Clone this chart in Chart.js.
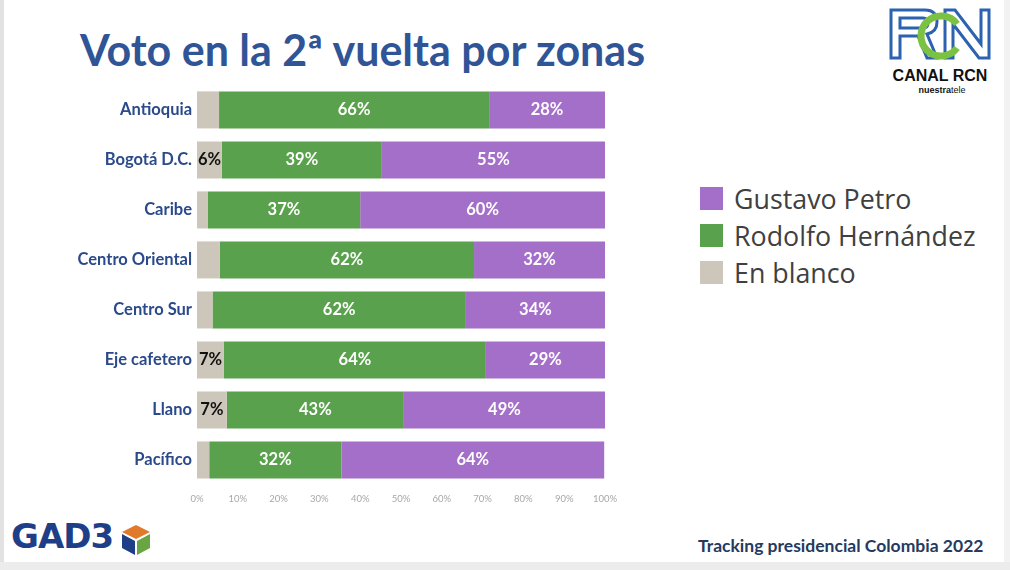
<!DOCTYPE html>
<html>
<head>
<meta charset="utf-8">
<script src="https://cdn.jsdelivr.net/npm/chart.js@4/dist/chart.umd.min.js"></script>
<style>
  html,body{margin:0;padding:0;background:#fff;}
  #page{position:relative;width:1010px;height:570px;overflow:hidden;background:#fff;font-family:Lato,"Open Sans",sans-serif;}
  #leftbar{position:absolute;left:0;top:0;width:4px;height:570px;background:#e2e2e2;}
  #bottombar{position:absolute;left:0;top:562px;width:1010px;height:8px;background:#ececec;}
  #rightbar{position:absolute;left:1004px;top:0;width:6px;height:570px;background:#f2f2f2;}
  #title{position:absolute;left:80px;top:24px;font-family:Lato,sans-serif;font-weight:700;font-size:43px;color:#2f5597;white-space:nowrap;}
  #chartbox{position:absolute;left:0;top:70px;width:640px;height:440px;}
  #legend{position:absolute;left:700px;top:180px;font-family:"Open Sans",sans-serif;font-size:26.8px;color:#404040;}
  #legend div{display:flex;align-items:center;height:37px;}
  #legend span.sw{display:inline-block;width:23px;height:23px;margin-right:11px;}
  #footer{position:absolute;left:698px;top:535px;font-family:Lato,sans-serif;font-weight:700;font-size:17.5px;color:#253a5e;white-space:nowrap;}
  #gad3{position:absolute;left:11px;top:516px;font-family:"DejaVu Sans",sans-serif;font-weight:900;font-size:34px;color:#1e3f87;letter-spacing:-1px;}
  #rcn{position:absolute;left:885px;top:6px;width:110px;height:92px;}
</style>
</head>
<body>
<div id="page">
  <div id="leftbar"></div>
  <div id="rightbar"></div>
  <div id="bottombar"></div>
  <div id="title">Voto en la 2ª vuelta por zonas</div>
  <div id="chartbox"><canvas id="c" width="640" height="440"></canvas></div>
  <div id="legend"></div>
  <div id="footer">Tracking presidencial Colombia 2022</div>
  <div id="gad3">GAD3</div>
  <svg style="position:absolute;left:119px;top:523px" width="34" height="34" viewBox="0 0 34 34">
    <polygon points="17,2 31,9 17,16 3,9" fill="#e07a2a"/>
    <polygon points="3,11 16,18 16,32 3,25" fill="#1e3f87"/>
    <polygon points="18,18 31,11 31,25 18,32" fill="#6aa543"/>
  </svg>
  <svg id="rcn" viewBox="0 0 110 92">
    <path d="M6 4 H40 Q52 4 52 16 Q52 26 42 28 L52 52 H42 L33 30 H15 V52 H6 Z M15 12 V22 H38 Q43 22 43 17 Q43 12 38 12 Z" fill="none" stroke="#2d62b0" stroke-width="3"/>
    <path d="M60 52 V4 H70 L96 38 V4 H104 V52 H94 L68 18 V52 Z" fill="none" stroke="#2d62b0" stroke-width="3"/>
    <path d="M72 18 A20 20 0 1 0 72 42" fill="none" stroke="#7cc242" stroke-width="7"/>
    <text x="55" y="75" text-anchor="middle" font-family="Liberation Sans, sans-serif" font-weight="700" font-size="16" fill="#111">CANAL RCN</text>
    <text x="57" y="87" text-anchor="middle" font-family="Liberation Sans, sans-serif" font-size="9" fill="#111"><tspan font-weight="700">nuestra</tspan>tele</text>
  </svg>
</div>
<script>
const categories = ["Antioquia","Bogotá D.C.","Caribe","Centro Oriental","Centro Sur","Eje cafetero","Llano","Pacífico"];
const enBlanco   = [5.4, 6.1, 2.6, 5.6, 3.8, 6.6, 7.3, 3.0];
const hernandez  = [66.2, 39.2, 37.4, 62.3, 62.1, 64.2, 43.4, 32.4];
const petro      = [28.4, 54.7, 60.0, 32.1, 34.1, 29.2, 49.3, 64.4];
const xTicks     = [0,10,20,30,40,50,60,70,80,90,100];
const blankLabelMin = 6;

const colors = {blank:"#cdc6ba", green:"#5aa14d", purple:"#a46fc8"};

const labelPlugin = {
  id:"segLabels",
  afterDatasetsDraw(chart){
    const ctx = chart.ctx;
    ctx.save();
    ctx.textBaseline = "middle";
    ctx.textAlign = "center";
    chart.data.datasets.forEach((ds, di) => {
      const meta = chart.getDatasetMeta(di);
      meta.data.forEach((bar, i) => {
        const v = ds.data[i];
        if (di === 0) {
          if (v < blankLabelMin) return;
          ctx.fillStyle = "#111";
        } else {
          ctx.fillStyle = "#ffffff";
        }
        ctx.font = "700 16.5px Lato, sans-serif";
        const cx = (bar.x + bar.base) / 2;
        ctx.fillText(Math.round(v) + "%", cx, bar.y);
      });
    });
    ctx.restore();
  }
};

const chart = new Chart(document.getElementById("c"), {
  type: "bar",
  data: {
    labels: categories,
    datasets: [
      {label:"En blanco", data: enBlanco, backgroundColor: colors.blank},
      {label:"Rodolfo Hernández", data: hernandez, backgroundColor: colors.green},
      {label:"Gustavo Petro", data: petro, backgroundColor: colors.purple}
    ]
  },
  options: {
    indexAxis: "y",
    responsive: false,
    animation: false,
    devicePixelRatio: 1,
    layout: {padding: {top: 6, right: 35, left: 0, bottom: 0}},
    datasets: {bar: {barPercentage: 0.74, categoryPercentage: 1, borderWidth: 0}},
    plugins: {legend: {display: false}, tooltip: {enabled: false}},
    scales: {
      x: {
        stacked: true, min: 0, max: 100,
        afterBuildTicks(s){ s.ticks = xTicks.map(v => ({value: v})); },
        afterFit(s){ s.height = 25; },
        grid: {display: false, drawTicks: false},
        border: {display: false},
        ticks: {padding: 8, color: "#a8a8a8", font: {family: "Lato, sans-serif", size: 9.5}, callback: v => v + "%"}
      },
      y: {
        stacked: true,
        afterFit(s){ s.width = 197; },
        grid: {display: false, drawTicks: false},
        border: {display: false},
        ticks: {padding: 5, color: "#2b4a8b", font: {family: "Lato, sans-serif", size: 16.5, weight: "700"}}
      }
    }
  },
  plugins: [labelPlugin]
});

const lg = document.getElementById("legend");
chart.data.datasets.slice().reverse().forEach(ds => {
  const row = document.createElement("div");
  const sw = document.createElement("span");
  sw.className = "sw"; sw.style.background = ds.backgroundColor;
  row.appendChild(sw);
  row.appendChild(document.createTextNode(ds.label));
  lg.appendChild(row);
});
</script>
</body>
</html>
